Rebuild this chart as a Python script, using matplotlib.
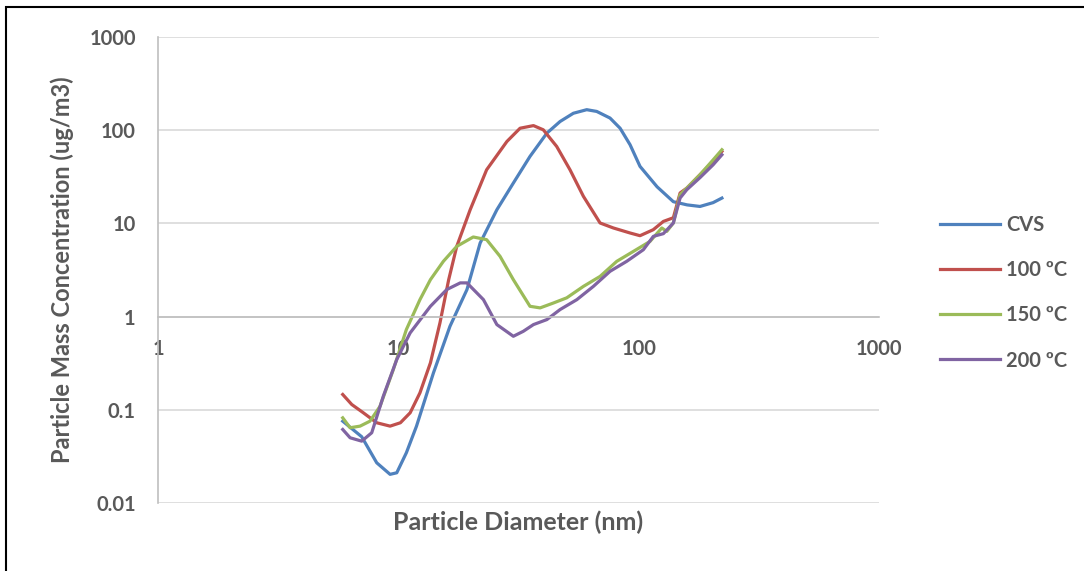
import matplotlib.pyplot as plt
from matplotlib.patches import Rectangle

# particle diameter (nm) / mass concentration (ug/m3)
cvs_d = [5.87, 7.04, 8.13, 9.24, 9.85, 10.8, 11.9, 14.0, 16.4, 19.3, 21.9, 25.7,
         30.1, 35.3, 41.5, 47.1, 53.5, 60.8, 66.9, 76.0, 83.7, 92.1, 101.3,
         119.3, 139.4, 159, 180, 204, 222]
cvs_m = [0.0755, 0.0514, 0.027, 0.0203, 0.0211, 0.0346, 0.0667, 0.249, 0.787,
         1.95, 6.16, 14.0, 27.1, 52.3, 93, 124, 152, 166, 159, 135, 105, 69.8,
         40.9, 24.7, 17.1, 15.8, 15.2, 16.7, 18.7]

t100_d = [5.87, 6.40, 7.15, 8.13, 9.24, 10.2, 11.2, 12.3, 13.6, 14.9, 16.2, 17.5,
          19.9, 23.3, 28.3, 32.1, 36.5, 40.1, 45.6, 51.8, 58.9, 69.1, 78.5,
          92.1, 101.3, 115, 126.7, 139.4, 148.7, 158.6, 180, 204, 222]
t100_m = [0.146, 0.114, 0.0929, 0.0726, 0.0668, 0.0726, 0.0929, 0.152, 0.319,
          0.856, 2.49, 5.67, 14.0, 37.6, 75.7, 105, 112, 101, 66.9, 37.6, 19.5,
          10.1, 8.93, 7.89, 7.38, 8.56, 10.5, 11.5, 21.2, 23.9, 33.3, 46.2, 59.2]

t150_d = [5.87, 6.30, 6.93, 7.62, 8.39, 9.53, 10.8, 12.3, 13.6, 15.4, 17.5, 20.5,
          23.3, 26.5, 30.1, 35.3, 38.9, 44.2, 50.2, 58.9, 69.1, 81.1, 95.1,
          111.5, 124.8, 130.9, 139.4, 148.7, 158.6, 180, 204, 222]
t150_m = [0.082, 0.0642, 0.0668, 0.0755, 0.109, 0.270, 0.726, 1.52, 2.49, 3.92,
          5.67, 7.15, 6.69, 4.43, 2.49, 1.29, 1.24, 1.40, 1.59, 2.11, 2.70, 3.92,
          5.01, 6.41, 8.93, 8.20, 10.1, 20.3, 23.9, 33.3, 48, 61.7]

t200_d = [5.87, 6.30, 7.04, 7.75, 8.66, 9.85, 11.2, 13.6, 15.9, 18.1, 19.3, 22.6,
          25.7, 30.1, 33.1, 36.5, 41.5, 47.1, 55.3, 64.8, 76.0, 89.2, 104.6,
          115.1, 126.7, 139.4, 148.7, 158.6, 180, 204, 222]
t200_m = [0.0615, 0.0501, 0.0461, 0.0567, 0.140, 0.346, 0.669, 1.29, 1.95, 2.30,
          2.30, 1.52, 0.821, 0.615, 0.695, 0.821, 0.929, 1.19, 1.52, 2.11, 3.06,
          3.92, 5.22, 7.26, 7.76, 10.1, 18.7, 23, 31, 42.5, 54.5]

x_ticks = [1, 10, 100, 1000]
y_ticks = [0.01, 0.1, 1, 10, 100, 1000]
y_tick_labels = ['0.01', '0.1', '1', '10', '100', '1000']

plt.rcParams['font.family'] = ['Lato', 'DejaVu Sans']
plt.rcParams['font.weight'] = 'bold'
grey = '#595959'

fig = plt.figure(figsize=(10.84, 5.71), dpi=100)
ax = fig.add_axes([158/1084, 1 - 503/571, 721/1084, 466/571])

ax.plot(cvs_d, cvs_m, color='#4F81BD', lw=2.3, label='CVS')
ax.plot(t100_d, t100_m, color='#C0504D', lw=2.3, label='100 ºC')
ax.plot(t150_d, t150_m, color='#9BBB59', lw=2.3, label='150 ºC')
ax.plot(t200_d, t200_m, color='#8064A2', lw=2.3, label='200 ºC')

ax.set_xscale('log')
ax.set_yscale('log')
ax.set_xlim(1, 1000)
ax.set_ylim(0.01, 1000)
ax.set_xticks(x_ticks, [str(v) for v in x_ticks])
ax.set_yticks(y_ticks, y_tick_labels)
ax.minorticks_off()
ax.tick_params(length=0, pad=16, labelsize=14.5, labelcolor=grey)

ax.yaxis.grid(True, color='#d9d9d9', lw=1.2)
ax.set_axisbelow(True)
for s in ['top', 'right']:
    ax.spines[s].set_visible(False)
ax.spines['left'].set_color('#bfbfbf')
ax.spines['bottom'].set_color('#bfbfbf')
ax.spines['left'].set_linewidth(1.2)
ax.spines['bottom'].set_linewidth(1.2)
ax.spines['bottom'].set_position(('data', 1))

ax.set_xlabel('Particle Diameter (nm)', fontsize=18, color=grey, fontweight='bold')
ax.xaxis.set_label_coords(0.5, -0.017)
ax.set_ylabel('Particle Mass Concentration (ug/m3)', fontsize=17, color=grey,
              fontweight='bold')
ax.yaxis.set_label_coords(-0.117, 0.5)

leg = fig.legend(loc='upper left', bbox_to_anchor=(940/1084, 1 - 215/571),
                 frameon=False, fontsize=14.5, handlelength=3.0, handletextpad=0.3,
                 labelspacing=1.25, borderpad=0, borderaxespad=0)
for t in leg.get_texts():
    t.set_color(grey)

fig.add_artist(Rectangle((6/1084, -0.05), 1.0, 1 - 7/571 + 0.05, fill=False,
                         lw=1.5, edgecolor='black', transform=fig.transFigure))

fig.savefig('out.png', dpi=100)
